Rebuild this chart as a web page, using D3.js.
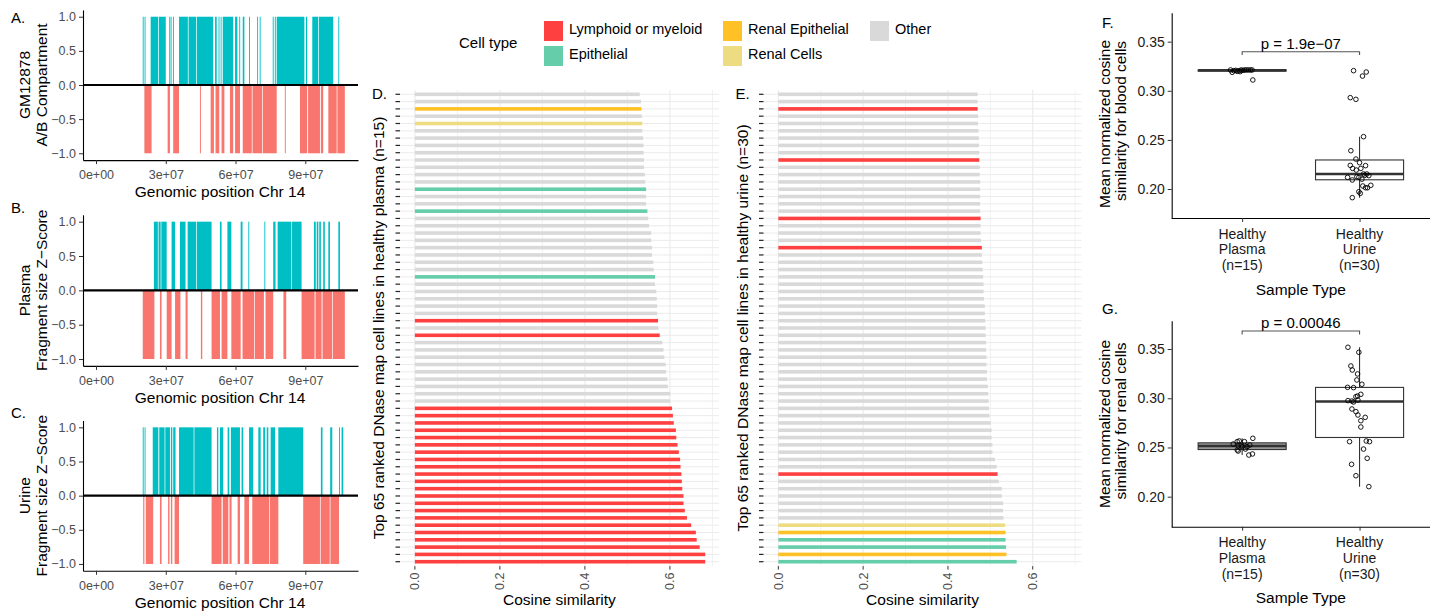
<!DOCTYPE html>
<html>
<head>
<meta charset="utf-8">
<script src="https://d3js.org/d3.v7.min.js"></script>
<style>
	body { margin: 0; background: #fff; }
	svg { display: block; font-family: 'Liberation Sans', Arial, Helvetica, sans-serif; }
</style>
</head>
<body>
<div id="figure"></div>
<script>
// ---------- data ----------

// genomic ticks for chr14 panels
const chrTicks = [0, 3e7, 6e7, 9e7];
const trackYTicks = [-1, -0.5, 0, 0.5, 1];

// A/B calls as [start, end] in Mb, +1 (A) and -1 (B)
const gmPos = [[20.1, 20.4], [20.9, 21.2], [23.5, 26.7], [27.0, 30.0], [31.5, 31.8], [32.1, 32.4], [33.1, 33.4], [35.7, 39.5], [39.8, 43.0], [43.3, 50.4], [51.2, 51.9], [52.7, 53.0], [53.6, 53.9], [54.5, 59.0], [59.8, 60.8], [61.6, 61.9], [63.1, 63.8], [65.8, 66.1], [69.3, 69.6], [70.4, 70.7], [76.0, 76.3], [76.9, 77.3], [77.7, 89.6], [90.3, 90.8], [93.0, 95.5], [95.8, 102.0], [104.2, 104.5]];
const gmNeg = [[20.8, 23.9], [30.8, 31.8], [33.2, 35.7], [44.7, 45.1], [49.3, 50.7], [51.4, 53.0], [54.0, 55.2], [57.6, 59.0], [59.8, 61.9], [63.1, 67.0], [67.3, 71.5], [71.8, 77.7], [81.2, 81.6], [87.7, 90.8], [91.2, 96.3], [96.7, 97.7], [99.9, 103.5], [103.8, 107.0]];

const plasmaPos = [[24.9, 26.6], [26.9, 27.8], [28.1, 30.4], [32.5, 34.0], [36.1, 38.5], [39.4, 43.0], [43.3, 49.7], [53.3, 54.0], [56.5, 58.2], [62.2, 63.0], [65.5, 65.9], [72.4, 72.8], [76.2, 77.2], [78.1, 84.0], [84.3, 88.4], [93.7, 94.5], [94.9, 95.6], [96.0, 96.7], [97.7, 98.4], [99.9, 100.6], [104.2, 104.9]];
const plasmaNeg = [[20.1, 25.1], [27.5, 28.2], [30.4, 32.5], [34.0, 36.3], [38.5, 39.4], [45.1, 45.7], [49.7, 53.3], [54.0, 56.5], [58.2, 62.2], [63.0, 68.0], [68.3, 72.2], [72.9, 76.2], [80.6, 81.8], [88.4, 94.0], [94.4, 97.0], [97.4, 101.5], [101.8, 107.0]];

const urinePos = [[20.1, 20.5], [20.9, 21.2], [24.4, 26.8], [27.2, 29.5], [29.8, 31.8], [32.2, 32.8], [33.2, 34.2], [35.7, 42.0], [42.3, 49.7], [52.0, 52.6], [53.3, 54.7], [56.6, 57.3], [58.0, 61.9], [62.6, 63.3], [65.8, 67.6], [69.8, 70.8], [71.9, 72.7], [73.4, 74.1], [75.1, 77.0], [78.4, 89.1], [96.7, 97.4], [100.7, 101.6], [104.5, 104.9], [105.6, 106.3]];
const urineNeg = [[20.3, 20.8], [21.4, 24.6], [27.5, 28.2], [31.0, 31.6], [32.2, 32.8], [33.8, 35.7], [49.7, 54.0], [54.5, 56.9], [57.4, 58.3], [60.9, 61.9], [63.8, 65.8], [67.2, 74.5], [74.8, 78.4], [89.1, 96.3], [96.6, 100.5], [100.8, 104.5]];

// top 65 DNase cell lines, listed top row -> bottom row
const plasmaCosine = [0.529, 0.532, 0.533, 0.534, 0.535, 0.535, 0.537, 0.538, 0.538, 0.539,
	0.539, 0.541, 0.542, 0.544, 0.544, 0.544, 0.547, 0.549, 0.551, 0.556,
	0.556, 0.558, 0.558, 0.561, 0.562, 0.565, 0.565, 0.568, 0.569, 0.570,
	0.570, 0.572, 0.573, 0.576, 0.582, 0.585, 0.587, 0.590, 0.591, 0.594,
	0.595, 0.601, 0.601, 0.605, 0.607, 0.609, 0.614, 0.615, 0.618, 0.621,
	0.624, 0.625, 0.627, 0.628, 0.629, 0.632, 0.632, 0.635, 0.640, 0.650,
	0.661, 0.663, 0.670, 0.683, 0.683];
const plasmaCellType = ['O', 'O', 'RE', 'O', 'RC', 'O', 'O', 'O', 'O', 'O',
	'O', 'O', 'O', 'E', 'O', 'O', 'E', 'O', 'O', 'O',
	'O', 'O', 'O', 'O', 'O', 'E', 'O', 'O', 'O', 'O',
	'O', 'L', 'O', 'L', 'O', 'O', 'O', 'O', 'O', 'O',
	'O', 'O', 'O', 'L', 'L', 'L', 'L', 'L', 'L', 'L',
	'L', 'L', 'L', 'L', 'L', 'L', 'L', 'L', 'L', 'L',
	'L', 'L', 'L', 'L', 'L'];

const urineCosine = [0.470, 0.470, 0.470, 0.471, 0.471, 0.472, 0.473, 0.473, 0.474, 0.474,
	0.475, 0.475, 0.476, 0.476, 0.476, 0.476, 0.476, 0.477, 0.477, 0.477,
	0.478, 0.480, 0.480, 0.481, 0.482, 0.483, 0.484, 0.484, 0.485, 0.487,
	0.487, 0.488, 0.489, 0.489, 0.490, 0.490, 0.491, 0.491, 0.492, 0.492,
	0.494, 0.495, 0.496, 0.497, 0.498, 0.501, 0.503, 0.503, 0.505, 0.505,
	0.511, 0.515, 0.517, 0.520, 0.527, 0.527, 0.530, 0.530, 0.531, 0.535,
	0.536, 0.536, 0.537, 0.538, 0.562];
const urineCellType = ['O', 'O', 'L', 'O', 'O', 'O', 'O', 'O', 'O', 'L',
	'O', 'O', 'O', 'O', 'O', 'O', 'O', 'L', 'O', 'O',
	'O', 'L', 'O', 'O', 'O', 'O', 'O', 'O', 'O', 'O',
	'O', 'O', 'O', 'O', 'O', 'O', 'O', 'O', 'O', 'O',
	'O', 'O', 'O', 'O', 'O', 'O', 'O', 'O', 'O', 'O',
	'O', 'O', 'L', 'O', 'O', 'O', 'O', 'O', 'O', 'RC',
	'RE', 'E', 'E', 'RE', 'E'];

const cellTypeKeys = ['L', 'E', 'RE', 'RC', 'O'];
const cellTypeNames = ['Lymphoid or myeloid', 'Epithelial', 'Renal Epithelial', 'Renal Cells', 'Other'];
const cellTypeColors = ['#FF4040', '#66CDAA', '#FFC125', '#EEDC82', '#D9D9D9'];

const cosineTicks = [0, 0.2, 0.4, 0.6];
const cosineGrid = [0, 0.1, 0.2, 0.3, 0.4, 0.5, 0.6, 0.7];

// mean normalized cosine similarity per sample (value, jitter in category units)
const sampleTypeLabels = [['Healthy', 'Plasma', '(n=15)'], ['Healthy', 'Urine', '(n=30)']];
const boxYTicks = [0.20, 0.25, 0.30, 0.35];

const bloodPlasma = [0.3212, 0.3188, 0.3205, 0.3208, 0.3198, 0.3205, 0.3212, 0.3208, 0.3212, 0.3212, 0.3212, 0.3212, 0.3212, 0.3195, 0.3110];
const bloodPlasmaJitter = [-0.099, -0.085, -0.071, -0.054, -0.042, -0.025, -0.008, 0.008, 0.023, 0.037, 0.054, 0.071, 0.085, -0.017, 0.091];
const bloodUrine = [0.3205, 0.3191, 0.3150, 0.2930, 0.2913, 0.2533, 0.2390, 0.2305, 0.2268, 0.2241,
	0.2238, 0.2210, 0.2210, 0.2193, 0.2153, 0.2153, 0.2136, 0.2119, 0.2119, 0.2092,
	0.2031, 0.2038, 0.2013, 0.2013, 0.1973, 0.1956, 0.1912, 0.2125, 0.2140, 0.2100];
const bloodUrineJitter = [-0.051, 0.057, 0.025, -0.079, -0.031, 0.034, -0.074, -0.031, 0.000, -0.079,
	0.051, -0.059, 0.011, -0.028, 0.034, 0.062, 0.079, -0.102, -0.006, -0.062,
	0.028, 0.096, 0.051, 0.068, -0.006, 0.006, -0.062, -0.023, 0.045, 0.020];

const renalPlasma = [0.2535, 0.2559, 0.2566, 0.2559, 0.2593, 0.2515, 0.2508, 0.2508, 0.2525, 0.2474, 0.2484, 0.2464, 0.2423, 0.2434, 0.2518];
const renalPlasmaJitter = [-0.076, -0.042, -0.025, 0.020, 0.091, -0.034, 0.000, 0.042, 0.065, -0.042, 0.028, -0.034, 0.057, 0.088, -0.008];
const renalUrine = [0.3518, 0.3467, 0.3328, 0.3287, 0.3247, 0.3186, 0.3142, 0.3111, 0.3108, 0.3040,
	0.3023, 0.3016, 0.2976, 0.2962, 0.2972, 0.2982, 0.2891, 0.2864, 0.2830, 0.2806,
	0.2772, 0.2708, 0.2559, 0.2566, 0.2559, 0.2484, 0.2390, 0.2329, 0.2213, 0.2102];
const renalUrineJitter = [-0.099, -0.006, -0.074, -0.062, -0.017, -0.023, 0.020, -0.102, -0.051, 0.011,
	-0.017, -0.031, -0.099, -0.051, -0.065, -0.014, -0.065, -0.031, -0.014, 0.048,
	0.011, 0.011, -0.085, 0.057, 0.085, 0.034, 0.065, -0.068, -0.031, 0.079];

// ---------- drawing ----------

const W = 1437;
const H = 614;
const svg = d3.select('#figure').append('svg').attr('width', W).attr('height', H);
svg.append('rect').attr('width', W).attr('height', H).attr('fill', '#fff');

function rotText(g, x, y, text, size) {
	return g
		.append('text')
		.attr('transform', `translate(${x},${y}) rotate(-90)`)
		.attr('text-anchor', 'middle')
		.style('font-size', size + 'px')
		.attr('fill', '#000')
		.text(text);
}

function sciFormat(d) {
	const parts = d.toExponential(0).split('e');
	return parts[0] + 'e' + parts[1][0] + parts[1].slice(1).padStart(2, '0');
}

function styleAxis(g, color, size) {
	g.select('.domain').attr('stroke', '#000').attr('stroke-width', 1.1);
	g.selectAll('.tick line').attr('stroke', '#333').attr('stroke-width', 1);
	g.selectAll('.tick text')
		.attr('fill', color)
		.style('font-size', size + 'px')
		.style('font-family', "'Liberation Sans', Arial, sans-serif");
}

// A / B / C : chr14 tracks
function trackPanel(cfg) {
	const g = svg.append('g');
	const x = d3.scaleLinear().domain([-5.59e6, 1.1266e8]).range([83, 358]);
	const y = d3.scaleLinear().domain([-1.1, 1.1]).range([cfg.bottom, cfg.top]);

	g.selectAll('.pos')
		.data(cfg.pos)
		.join('rect')
		.attr('class', 'pos')
		.attr('x', (d) => x(d[0] * 1e6))
		.attr('width', (d) => Math.max(0.9, x(d[1] * 1e6) - x(d[0] * 1e6)))
		.attr('y', y(1))
		.attr('height', y(0) - y(1))
		.attr('fill', '#00BFC4');

	g.selectAll('.neg')
		.data(cfg.neg)
		.join('rect')
		.attr('class', 'neg')
		.attr('x', (d) => x(d[0] * 1e6))
		.attr('width', (d) => Math.max(0.9, x(d[1] * 1e6) - x(d[0] * 1e6)))
		.attr('y', y(0))
		.attr('height', y(-1) - y(0))
		.attr('fill', '#F8766D');

	g.append('line')
		.attr('x1', 83)
		.attr('x2', 358)
		.attr('y1', y(0))
		.attr('y2', y(0))
		.attr('stroke', '#000')
		.attr('stroke-width', 2.2);

	const yAxisG = g
		.append('g')
		.attr('transform', 'translate(83,0)')
		.call(d3.axisLeft(y).tickValues(trackYTicks).tickFormat(d3.format('.1f')).tickSize(4).tickSizeOuter(0));
	styleAxis(yAxisG, '#4d4d4d', 12.5);

	const xAxisG = g
		.append('g')
		.attr('transform', `translate(0,${cfg.bottom})`)
		.call(d3.axisBottom(x).tickValues(chrTicks).tickFormat(sciFormat).tickSize(4).tickSizeOuter(0));
	styleAxis(xAxisG, '#4d4d4d', 12.5);
	xAxisG.selectAll('.tick text').attr('dy', '0.95em');

	g.append('text')
		.attr('x', 220)
		.attr('y', cfg.bottom + 37)
		.attr('text-anchor', 'middle')
		.style('font-size', '15.5px')
		.text('Genomic position Chr 14');

	const mid = (cfg.top + cfg.bottom) / 2;
	rotText(g, 30, mid, cfg.title[0], 15.5);
	rotText(g, 47, mid, cfg.title[1], 15.5);

	g.append('text')
		.attr('x', 11)
		.attr('y', cfg.labelY)
		.style('font-size', '15px')
		.text(cfg.label);
}

trackPanel({ top: 9.9, bottom: 160.1, pos: gmPos, neg: gmNeg, title: ['GM12878', 'A/B Compartment'], label: 'A.', labelY: 22.5 });
trackPanel({ top: 214.8, bottom: 365.9, pos: plasmaPos, neg: plasmaNeg, title: ['Plasma', 'Fragment size Z\u2212Score'], label: 'B.', labelY: 212.5 });
trackPanel({ top: 420.5, bottom: 570.8, pos: urinePos, neg: urineNeg, title: ['Urine', 'Fragment size Z\u2212Score'], label: 'C.', labelY: 417.5 });

// D / E : ranked cell lines
const typeColor = d3.scaleOrdinal().domain(cellTypeKeys).range(cellTypeColors);

function rankPanel(cfg) {
	const g = svg.append('g');
	const top = 89.9;
	const bottom = 566.1;
	const x = d3.scaleLinear().domain([-0.035, 0.715]).range([cfg.left, cfg.right]);
	const y = d3.scalePoint().domain(d3.range(cfg.values.length)).range([top, bottom]).padding(0.6);

	g.selectAll('.vgrid')
		.data(cosineGrid)
		.join('line')
		.attr('x1', (d) => x(d))
		.attr('x2', (d) => x(d))
		.attr('y1', top)
		.attr('y2', bottom)
		.attr('stroke', '#EBEBEB')
		.attr('stroke-width', (d, i) => (i % 2 === 0 ? 1.1 : 0.7));

	g.selectAll('.hgrid')
		.data(cfg.values)
		.join('line')
		.attr('x1', cfg.left)
		.attr('x2', cfg.right)
		.attr('y1', (d, i) => y(i))
		.attr('y2', (d, i) => y(i))
		.attr('stroke', '#EBEBEB')
		.attr('stroke-width', 1);

	g.selectAll('.bar')
		.data(cfg.values)
		.join('rect')
		.attr('x', x(0))
		.attr('width', (d) => x(d) - x(0))
		.attr('y', (d, i) => y(i) - 1.8)
		.attr('height', 3.6)
		.attr('fill', (d, i) => typeColor(cfg.types[i]));

	// y ticks (no labels)
	g.selectAll('.ytick')
		.data(cfg.values)
		.join('line')
		.attr('x1', cfg.left - 4.5)
		.attr('x2', cfg.left)
		.attr('y1', (d, i) => y(i))
		.attr('y2', (d, i) => y(i))
		.attr('stroke', '#222')
		.attr('stroke-width', 1.2);

	g.selectAll('.xtick')
		.data(cosineTicks)
		.join('line')
		.attr('x1', (d) => x(d))
		.attr('x2', (d) => x(d))
		.attr('y1', bottom)
		.attr('y2', bottom + 3.5)
		.attr('stroke', '#333');

	g.selectAll('.xlab')
		.data(cosineTicks)
		.join('text')
		.attr('transform', (d) => `translate(${x(d) + 4.5},${bottom + 6.5}) rotate(-90)`)
		.attr('text-anchor', 'end')
		.attr('fill', '#4d4d4d')
		.style('font-size', '12.5px')
		.text(d3.format('.1f'));

	g.append('text')
		.attr('x', (cfg.left + cfg.right) / 2)
		.attr('y', 605)
		.attr('text-anchor', 'middle')
		.style('font-size', '15.5px')
		.text('Cosine similarity');

	rotText(g, cfg.left - 16, (top + bottom) / 2, cfg.title, 15.5);

	g.append('text')
		.attr('x', cfg.left - 28)
		.attr('y', 99)
		.style('font-size', '15px')
		.text(cfg.label);
}

rankPanel({
	left: 400,
	right: 718.8,
	values: plasmaCosine,
	types: plasmaCellType,
	title: 'Top 65 ranked DNase map cell lines in healthy plasma (n=15)',
	label: 'D.',
});
rankPanel({
	left: 763.5,
	right: 1081.5,
	values: urineCosine,
	types: urineCellType,
	title: 'Top 65 ranked DNase map cell lines in healthy urine (n=30)',
	label: 'E.',
});

// legend
const legend = svg.append('g');
legend.append('text').attr('x', 459).attr('y', 48).style('font-size', '15px').text('Cell type');
const legendPos = [
	[544, 21],
	[544, 46],
	[723, 21],
	[723, 46],
	[870, 21],
];
cellTypeKeys.forEach((k, i) => {
	const p = legendPos[i];
	legend.append('rect').attr('x', p[0]).attr('y', p[1]).attr('width', 19).attr('height', 20).attr('fill', typeColor(k));
	legend
		.append('text')
		.attr('x', p[0] + 25)
		.attr('y', p[1] + 13)
		.style('font-size', '14.5px')
		.text(cellTypeNames[i]);
});

// F / G : box plots
function boxPanel(cfg) {
	const g = svg.append('g');
	const left = 1171.7;
	const right = 1430;
	const x = d3.scalePoint().domain([0, 1]).range([left, right]).padding(0.6);
	const y = d3.scaleLinear().domain(cfg.domain).range([cfg.bottom, cfg.top]);
	const boxW = x.step() * 0.75;

	cfg.groups.forEach((grp, gi) => {
		const s = grp.values.slice().sort(d3.ascending);
		const q1 = d3.quantileSorted(s, 0.25);
		const med = d3.quantileSorted(s, 0.5);
		const q3 = d3.quantileSorted(s, 0.75);
		const iqr = q3 - q1;
		const lo = d3.min(s.filter((v) => v >= q1 - 1.5 * iqr));
		const hi = d3.max(s.filter((v) => v <= q3 + 1.5 * iqr));
		const cx = x(gi);

		g.append('line').attr('x1', cx).attr('x2', cx).attr('y1', y(hi)).attr('y2', y(q3)).attr('stroke', '#333').attr('stroke-width', 1.1);
		g.append('line').attr('x1', cx).attr('x2', cx).attr('y1', y(q1)).attr('y2', y(lo)).attr('stroke', '#333').attr('stroke-width', 1.1);
		g.append('rect')
			.attr('x', cx - boxW / 2)
			.attr('width', boxW)
			.attr('y', y(q3))
			.attr('height', Math.max(0.5, y(q1) - y(q3)))
			.attr('fill', grp.fill)
			.attr('stroke', '#333')
			.attr('stroke-width', 1.1);
		g.append('line')
			.attr('x1', cx - boxW / 2)
			.attr('x2', cx + boxW / 2)
			.attr('y1', y(med))
			.attr('y2', y(med))
			.attr('stroke', '#333')
			.attr('stroke-width', 2.6);

		g.selectAll('.pt' + gi)
			.data(grp.values)
			.join('circle')
			.attr('cx', (d, i) => cx + grp.jitter[i] * x.step())
			.attr('cy', (d) => y(d))
			.attr('r', 2.3)
			.attr('fill', 'none')
			.attr('stroke', '#000')
			.attr('stroke-width', 0.9);
	});

	const yAxisG = g
		.append('g')
		.attr('transform', `translate(${left},0)`)
		.call(d3.axisLeft(y).tickValues(boxYTicks).tickFormat(d3.format('.2f')).tickSize(4).tickSizeOuter(0));
	styleAxis(yAxisG, '#1a1a1a', 14);

	const xAxisG = g
		.append('g')
		.attr('transform', `translate(0,${cfg.bottom})`)
		.call(d3.axisBottom(x).tickSize(4).tickSizeOuter(0).tickFormat(''));
	styleAxis(xAxisG, '#1a1a1a', 14);
	xAxisG.select('.domain').attr('d', `M${left},0.5H${right}`);

	sampleTypeLabels.forEach((lines, gi) => {
		lines.forEach((t, li) => {
			g.append('text')
				.attr('x', x(gi))
				.attr('y', cfg.bottom + 20.5 + li * 15.7)
				.attr('text-anchor', 'middle')
				.attr('fill', '#1a1a1a')
				.style('font-size', '14px')
				.text(t);
		});
	});

	g.append('text')
		.attr('x', (left + right) / 2)
		.attr('y', cfg.bottom + 76.5)
		.attr('text-anchor', 'middle')
		.style('font-size', '15.5px')
		.text('Sample Type');

	// significance bracket
	const by = y(cfg.bracket);
	g.append('path')
		.attr('d', `M${x(0)},${by + 3.4}V${by}H${x(1)}V${by + 3.4}`)
		.attr('fill', 'none')
		.attr('stroke', '#555')
		.attr('stroke-width', 1.1);
	g.append('text')
		.attr('x', (x(0) + x(1)) / 2)
		.attr('y', by - 3)
		.attr('text-anchor', 'middle')
		.style('font-size', '15px')
		.text(cfg.pText);

	rotText(g, 1109.5, cfg.titleMid, cfg.title[0], 15.5);
	rotText(g, 1126, cfg.titleMid - 3, cfg.title[1], 15.5);

	g.append('text')
		.attr('x', 1102)
		.attr('y', cfg.labelY)
		.style('font-size', '15px')
		.text(cfg.label);
}

boxPanel({
	top: 12.7,
	bottom: 218,
	domain: [0.1705, 0.3795],
	bracket: 0.3398,
	pText: 'p = 1.9e\u221207',
	title: ['Mean normalized cosine', 'similarity for blood cells'],
	titleMid: 124,
	label: 'F.',
	labelY: 27.5,
	groups: [
		{ values: bloodPlasma, jitter: bloodPlasmaJitter, fill: '#9a9a9a' },
		{ values: bloodUrine, jitter: bloodUrineJitter, fill: '#fff' },
	],
});
boxPanel({
	top: 320.7,
	bottom: 526.7,
	domain: [0.1695, 0.3788],
	bracket: 0.3683,
	pText: 'p = 0.00046',
	title: ['Mean normalized cosine', 'similarity for renal cells'],
	titleMid: 424,
	label: 'G.',
	labelY: 313.5,
	groups: [
		{ values: renalPlasma, jitter: renalPlasmaJitter, fill: '#9a9a9a' },
		{ values: renalUrine, jitter: renalUrineJitter, fill: '#fff' },
	],
});
</script>
</body>
</html>
